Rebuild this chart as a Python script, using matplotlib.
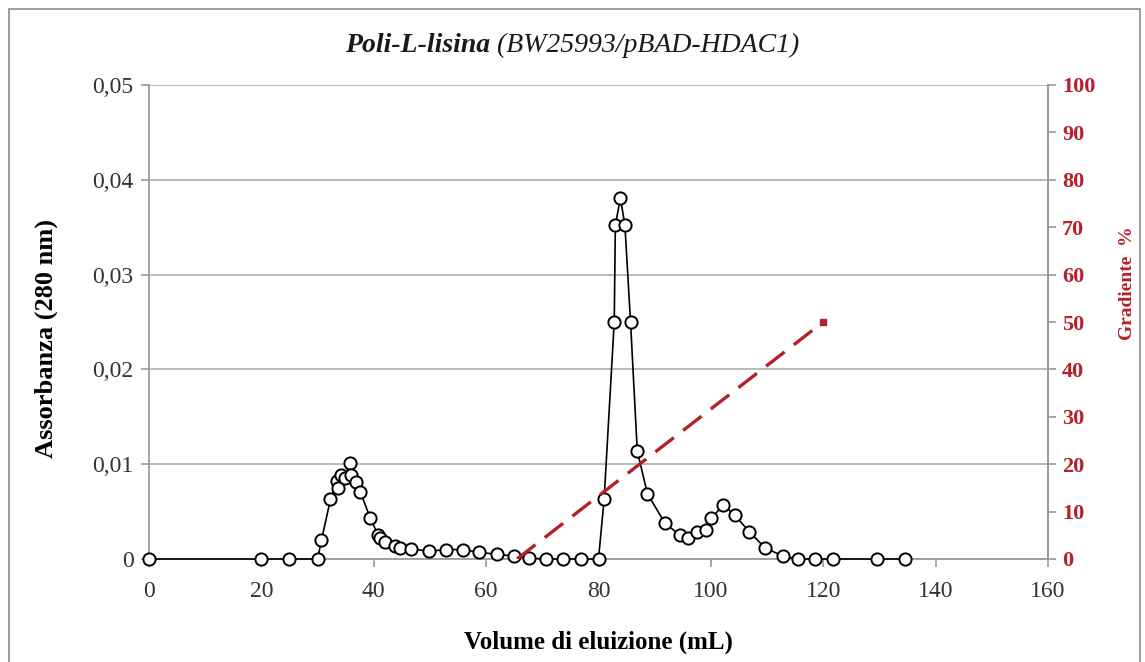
import matplotlib
matplotlib.use("Agg")
import matplotlib.pyplot as plt
from matplotlib.patches import Rectangle

# Elution profile: absorbance at 280 nm vs elution volume
volume_ml = [0, 20, 25, 30, 30.7, 32.3, 33.4, 33.7, 34.2, 34.8, 35.7, 36.0, 36.9,
             37.6, 39.4, 40.8, 41.1, 42.0, 43.7, 44.7, 46.7, 49.8, 52.8, 55.9,
             58.8, 61.9, 64.9, 67.6, 70.7, 73.6, 76.8, 80.0, 81.0, 82.8, 83.0,
             83.9, 84.7, 85.7, 86.9, 88.7, 91.8, 94.5, 95.9, 97.6, 99.2, 100.1,
             102.2, 104.3, 106.8, 109.6, 112.8, 115.5, 118.6, 121.8, 129.6, 134.6]
absorbance = [0, 0, 0, 0, 0.0020, 0.0063, 0.0082, 0.0075, 0.0089, 0.0085, 0.0101,
              0.0089, 0.0081, 0.0071, 0.0043, 0.0025, 0.0022, 0.0018, 0.0014,
              0.0012, 0.0011, 0.0008, 0.0010, 0.0010, 0.0007, 0.0005, 0.0003,
              0.0001, 0, 0, 0, 0, 0.0063, 0.0250, 0.0352, 0.0381, 0.0352, 0.0250,
              0.0114, 0.0069, 0.0038, 0.0025, 0.0022, 0.0029, 0.0031, 0.0043,
              0.0057, 0.0046, 0.0029, 0.0012, 0.0003, 0, 0, 0, 0, 0]

# Salt gradient (%)
gradient_ml = [65.5, 120]
gradient_pct = [0, 50]

x_ticks = [0, 20, 40, 60, 80, 100, 120, 140, 160]
y_ticks = [0, 0.01, 0.02, 0.03, 0.04, 0.05]
y_tick_labels = ["0", "0,01", "0,02", "0,03", "0,04", "0,05"]
grad_ticks = list(range(0, 101, 10))

RED = "#B5202A"
GREY = "#9A9A9A"

plt.rcParams["font.family"] = ["Liberation Serif", "DejaVu Serif"]

fig = plt.figure(figsize=(11.45, 6.62), dpi=100)
ax = fig.add_axes([149 / 1145, 103 / 662, 899 / 1145, 474 / 662])

# outer frame of the chart area
fig.patches.append(Rectangle((9 / 1145, -0.02), 1131 / 1145, 0.02 + 653 / 662,
                             transform=fig.transFigure, fill=False,
                             edgecolor="#8C8C8C", linewidth=1.2, zorder=0))

ax.set_xlim(0, 160)
ax.set_ylim(0, 0.05)
ax.set_xticks(x_ticks)
ax.set_xticklabels([str(v) for v in x_ticks])
ax.set_yticks(y_ticks)
ax.set_yticklabels(y_tick_labels)
ax.yaxis.grid(True, color="#B4B4B4", linewidth=1.3)
ax.set_axisbelow(True)
ax.spines["top"].set_visible(False)
for side in ("left", "bottom", "right"):
    ax.spines[side].set_color(GREY)
    ax.spines[side].set_linewidth(1.3)
ax.tick_params(axis="both", colors=GREY, length=6, width=1.2, labelsize=17,
               labelcolor="#333333", pad=5)
ax.tick_params(axis="x", pad=10)

ax.plot(volume_ml, absorbance, color="black", linewidth=1.2, marker="o",
        markersize=8.8, markerfacecolor="white", markeredgecolor="black",
        markeredgewidth=1.4, zorder=4, clip_on=False)

ax.set_xlabel("Volume di eluizione (mL)", fontsize=18, fontweight="bold")
ax.xaxis.set_label_coords(0.5, -0.150)
ax.set_ylabel("Assorbanza (280 nm)", fontsize=19, fontweight="bold")
ax.yaxis.set_label_coords(-0.1012, 0.466)

ax2 = ax.twinx()
ax2.set_ylim(0, 100)
ax2.set_yticks(grad_ticks)
ax2.set_yticklabels([str(v) for v in grad_ticks])
for side in ("top", "left", "bottom"):
    ax2.spines[side].set_visible(False)
ax2.spines["right"].set_color(GREY)
ax2.spines["right"].set_linewidth(1.3)
ax2.tick_params(axis="y", colors=GREY, length=6, width=1.2, labelsize=16,
                labelcolor=RED, pad=4)
for lab in ax2.get_yticklabels():
    lab.set_fontweight("bold")
line, = ax2.plot(gradient_ml, gradient_pct, color=RED, linewidth=2.4,
                 marker="s", markersize=4, markevery=[1], zorder=3)
line.set_dashes((7, 3.5))
ax2.set_ylabel("Gradiente  %", fontsize=14, fontweight="bold", color=RED)
ax2.yaxis.set_label_coords(1.079, 0.582)

t1 = fig.text(0, 0, "Poli-L-lisina", fontsize=20, fontweight="bold",
              fontstyle="italic", color="#1a1a1a")
t2 = fig.text(0, 0, " (BW25993/pBAD-HDAC1)", fontsize=20, fontstyle="italic",
              color="#1a1a1a")
fig.canvas.draw()
r = fig.canvas.get_renderer()
w1 = t1.get_window_extent(r).width
w2 = t2.get_window_extent(r).width
x0 = 572 - (w1 + w2) / 2
ty = 662 - 52
t1.set_position((x0 / 1145, ty / 662))
t2.set_position(((x0 + w1) / 1145, ty / 662))

fig.savefig("out.png", dpi=100, facecolor="white")
